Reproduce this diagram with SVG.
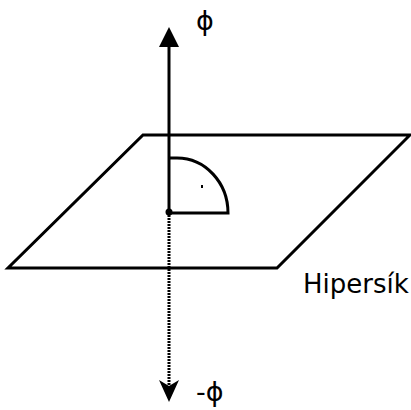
<svg xmlns="http://www.w3.org/2000/svg" width="411" height="410" viewBox="0 0 411 410">
<style>
.ln{fill:none;stroke:#000;stroke-width:3}
.lbl{font-family:"DejaVu Sans","Verdana",sans-serif;fill:#000}
</style>
<rect width="411" height="410" fill="#fff"/>
<g id="hyperplane">
<polygon class="ln" points="143,135 410,135 277,268 8,268"/>
<text class="lbl" x="303" y="293" font-size="26">Hipersík</text>
</g>
<g id="angle">
<path class="ln" d="M169,158 L177,158 A51,55 0 0 1 228,213 L169,213"/>
<rect x="201" y="185" width="2" height="3" fill="#000"/>
</g>
<g id="connectors">
<line class="ln" x1="169" y1="45" x2="169" y2="212"/>
<polygon points="169,27 159,47 179,47" fill="#000"/>
<line class="ln" x1="169" y1="215" x2="169" y2="386" stroke-dasharray="2,1"/>
<polygon points="159,380 169,386 179,380 169,402" fill="#000"/>
<circle cx="169" cy="212" r="3.5" fill="#000"/>
</g>
<g id="labels">
<text class="lbl" x="196" y="30" font-size="27">ϕ</text>
<text class="lbl" x="196" y="401" font-size="27">-ϕ</text>
</g>
</svg>
